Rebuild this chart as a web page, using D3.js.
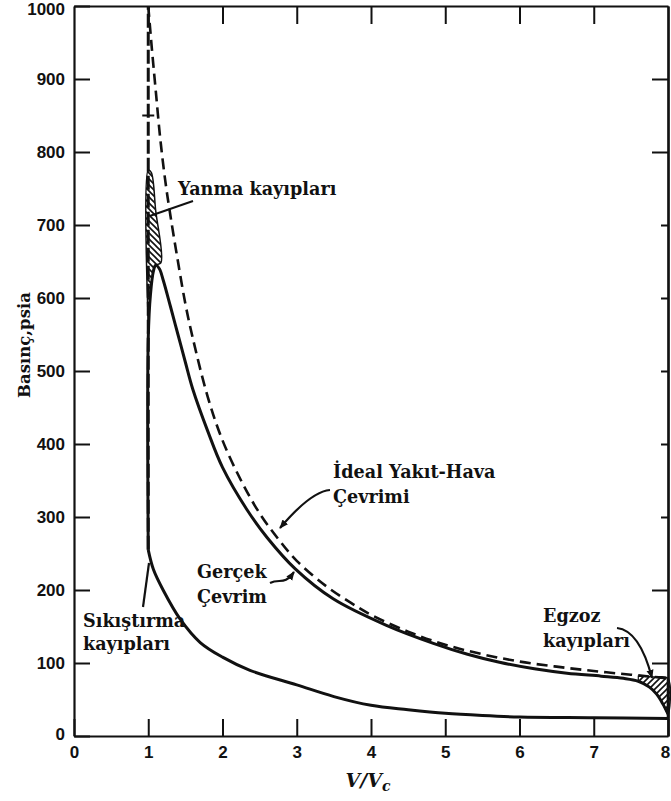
<!DOCTYPE html>
<html>
<head>
<meta charset="utf-8">
<script src="https://cdn.jsdelivr.net/npm/d3@7/dist/d3.min.js"></script>
<style>
  html, body { margin: 0; padding: 0; background: #fff; }
  svg { display: block; }
</style>
</head>
<body>
<svg id="chart" width="671" height="801"></svg>
<script>
// Compression stroke, V/Vc vs psia
const compression = [[8,24],[7,25],[6,26],[5.5,28],[5,31],[4.5,36],[4,42],[3.5,54],[3,70],[2.37,90],[2,108],[1.7,128],[1.43,160],[1.2,200],[1.07,228],[1,255]];
// Actual cycle: combustion rise, expansion and exhaust blowdown
const actualCycle = [[1,255],[1,545],[1.03,605],[1.07,637],[1.1,645],[1.15,640],[1.2,625],[1.3,588],[1.4,550],[1.5,512],[1.6,475],[1.8,418],[2,368],[2.33,310],[2.6,272],[2.98,229],[3.49,188],[4.2,152],[4.84,127],[5.3,112],[5.73,101],[6.2,92],[6.64,86],[7.1,82],[7.4,79],[7.6,75],[7.75,67],[7.85,57],[7.93,44],[8,30]];
// Ideal fuel-air cycle: constant-volume rise then expansion
const idealRise = [[1,255],[1,1000]];
const idealExpansion = [[1,1000],[1.05,940],[1.1,885],[1.16,820],[1.23,760],[1.3,712],[1.4,650],[1.5,592],[1.6,545],[1.8,465],[2,405],[2.25,350],[2.5,305],[2.75,270],[3,240],[3.4,205],[3.72,183],[4,166],[4.5,143],[5,125],[5.5,112],[6,102],[6.5,95],[7,89],[7.5,84],[7.8,81],[8,79]];
const idealExhaust = [[8,79],[8,24]];
// Loss areas
const combustionLoss = [[1,565],[1,775],[1.04,772],[1.1,720],[1.17,648],[1.1,645],[1.05,625],[1.02,595]];
const exhaustLoss = [[7.6,82],[7.8,81],[8,79],[8,30],[7.93,44],[7.85,57],[7.75,67],[7.6,75]];

const xTicks = [0,1,2,3,4,5,6,7,8];
const yTicks = [0,100,200,300,400,500,600,700,800,900,1000];
const rightLongTicks = [100,200,800,900];
const rightShortTicks = [300,400,500,600,700];

const SERIF = '"DejaVu Serif", serif';
const SANS = '"Liberation Sans Narrow", "Liberation Sans", Arial, sans-serif';

const svg = d3.select("#chart");
const x = d3.scaleLinear().domain([0, 8]).range([74, 668]);
const y = d3.scaleLinear().domain([0, 1000]).range([736, 6]);

// Hatch patterns
const defs = svg.append("defs");
function hatch(id, dir) {
  const p = defs.append("pattern").attr("id", id).attr("patternUnits", "userSpaceOnUse")
    .attr("width", 6).attr("height", 6);
  p.append("path").attr("d", dir > 0 ? "M-1,7 L7,-1 M-4,4 L4,-4 M2,10 L10,2" : "M-1,-1 L7,7 M-4,2 L2,8 M4,-2 L10,4")
    .attr("stroke", "#111").attr("stroke-width", 1.6);
}
hatch("hatchA", -1);
hatch("hatchB", 1);
const marker = defs.append("marker").attr("id", "arrow").attr("viewBox", "0 0 10 10")
  .attr("refX", 9).attr("refY", 5).attr("markerWidth", 9).attr("markerHeight", 9)
  .attr("orient", "auto-start-reverse").attr("markerUnits", "userSpaceOnUse");
marker.append("path").attr("d", "M0,1 L10,5 L0,9 z").attr("fill", "#111");

// Axes with inward ticks
const axisStyle = g => {
  g.select(".domain").attr("stroke", "#111").attr("stroke-width", 2.2);
  g.selectAll(".tick line").attr("stroke", "#111").attr("stroke-width", 2);
  g.selectAll(".tick text").style("font-family", SANS).style("font-weight", "bold")
    .style("font-size", "17px").attr("fill", "#111");
};
const bottom = svg.append("g").attr("transform", `translate(0,${y(0)})`)
  .call(d3.axisBottom(x).tickValues(xTicks).tickFormat(d3.format("d")).tickSizeInner(-17).tickSizeOuter(0).tickPadding(10))
  .call(axisStyle);
bottom.selectAll(".tick text").filter(d => d === 8).attr("dx", -3);
const left = svg.append("g").attr("transform", `translate(${x(0)},0)`)
  .call(d3.axisLeft(y).tickValues(yTicks).tickFormat(d3.format("d")).tickSizeInner(-16).tickSizeOuter(0).tickPadding(9))
  .call(axisStyle);
left.selectAll(".tick text").filter(d => d === 1000).attr("dy", "0.5em");
left.selectAll(".tick text").filter(d => d === 0).attr("dy", "0.2em");
svg.append("g").attr("transform", `translate(0,${y(1000)})`)
  .call(d3.axisTop(x).tickValues([1,2,3,4,5,6,7]).tickFormat("").tickSizeInner(-18).tickSizeOuter(0))
  .call(axisStyle);
const right = svg.append("g").attr("transform", `translate(${x(8)},0)`);
right.call(d3.axisRight(y).tickValues(rightLongTicks).tickFormat("").tickSizeInner(-16).tickSizeOuter(0)).call(axisStyle);
right.append("g").call(d3.axisRight(y).tickValues(rightShortTicks).tickFormat("").tickSizeInner(-7).tickSizeOuter(0)).call(axisStyle);

const straight = d3.line().x(d => x(d[0])).y(d => y(d[1]));
const smooth = d3.line().x(d => x(d[0])).y(d => y(d[1])).curve(d3.curveCatmullRom.alpha(0.5));

// Hatched loss areas
svg.append("path").attr("d", smooth(combustionLoss) + "Z").attr("fill", "url(#hatchA)").attr("stroke", "#111").attr("stroke-width", 1.5);
svg.append("path").attr("d", smooth(exhaustLoss) + "Z").attr("fill", "url(#hatchB)").attr("stroke", "#111").attr("stroke-width", 1.2);

// Ideal cycle (dashed)
svg.append("path").attr("d", straight(idealRise)).attr("fill", "none").attr("stroke", "#111").attr("stroke-width", 3).attr("stroke-dasharray", "14,4");
svg.append("path").attr("d", smooth(idealExpansion)).attr("fill", "none").attr("stroke", "#111").attr("stroke-width", 2.6).attr("stroke-dasharray", "11,6");
svg.append("path").attr("d", straight(idealExhaust)).attr("fill", "none").attr("stroke", "#111").attr("stroke-width", 2.6);

// Compression and actual cycle (solid)
svg.append("path").attr("d", smooth(compression)).attr("fill", "none").attr("stroke", "#111").attr("stroke-width", 3);
svg.append("path").attr("d", smooth(actualCycle)).attr("fill", "none").attr("stroke", "#111").attr("stroke-width", 3);

// Small cross mark on the constant-volume line
svg.append("line").attr("x1", x(1) - 6).attr("x2", x(1) + 6).attr("y1", y(850)).attr("y2", y(850)).attr("stroke", "#111").attr("stroke-width", 2);

// Annotations
const lbl = (tx, ty, s) => svg.append("text").attr("x", tx).attr("y", ty)
  .style("font-family", SERIF).style("font-weight", "bold").style("font-size", "17.6px").attr("fill", "#111").text(s);
lbl(178, 195, "Yanma kayıpları");
svg.append("line").attr("x1", 193).attr("y1", 201).attr("x2", x(1.02)).attr("y2", 216).attr("stroke", "#111").attr("stroke-width", 2);

lbl(333, 478, "İdeal Yakıt-Hava");
lbl(333, 503, "Çevrimi");
svg.append("path").attr("d", "M330,490 C318,491 302,502 280,528").attr("fill", "none").attr("stroke", "#111").attr("stroke-width", 2.2).attr("marker-end", "url(#arrow)");

lbl(197, 578, "Gerçek");
lbl(197, 603, "Çevrim");
svg.append("path").attr("d", "M270,583 C280,578 284,586 294,572").attr("fill", "none").attr("stroke", "#111").attr("stroke-width", 2.2).attr("marker-end", "url(#arrow)");

lbl(83, 627, "Sıkıştırma");
lbl(83, 650, "kayıpları");
svg.append("line").attr("x1", 143).attr("y1", 607).attr("x2", 149).attr("y2", 563).attr("stroke", "#111").attr("stroke-width", 2.2);

lbl(543, 622, "Egzoz");
lbl(543, 647, "kayıpları");
svg.append("path").attr("d", "M617,628 C636,630 646,655 652,678").attr("fill", "none").attr("stroke", "#111").attr("stroke-width", 2.2).attr("marker-end", "url(#arrow)");

// Axis titles
svg.append("text").attr("transform", "translate(30,345) rotate(-90)")
  .attr("text-anchor", "middle").style("font-family", SERIF).style("font-weight", "bold")
  .style("font-size", "16.5px").attr("fill", "#111").text("Basınç,psia");
const xt = svg.append("text").attr("x", 368).attr("y", 787).attr("text-anchor", "middle")
  .style("font-family", SERIF).style("font-weight", "bold").style("font-style", "italic")
  .style("font-size", "19px").attr("fill", "#111");
xt.append("tspan").text("V/V");
xt.append("tspan").attr("dy", 4).style("font-size", "14px").text("c");
</script>
</body>
</html>
